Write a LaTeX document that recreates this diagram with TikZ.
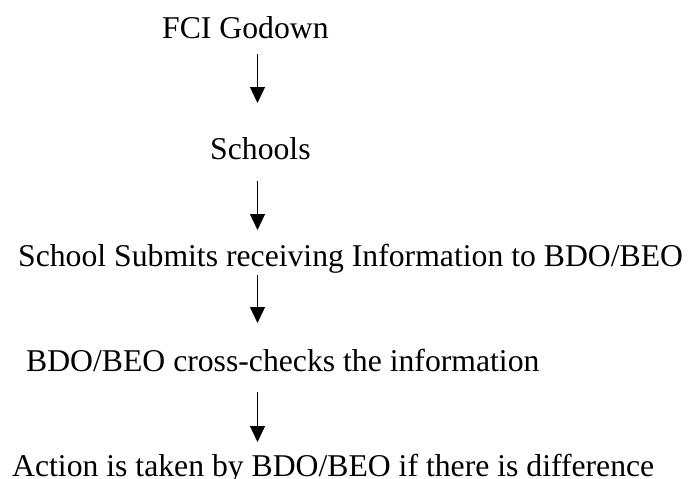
\documentclass[tikz,border=0pt]{standalone}
\usepackage{fontspec}
\setmainfont{Liberation Serif}
\usetikzlibrary{arrows.meta,calc}
\begin{document}
\begin{tikzpicture}[x=1pt,y=1pt,
  lbl/.style={anchor=base west,inner sep=0pt,font=\fontsize{31.7}{38}\selectfont},
  arr/.style={line width=1.3pt,-{Triangle[width=15pt,length=16pt]}}]
\useasboundingbox (0,0) rectangle (689,-479);
\coordinate (ax) at (257.5,0);
\node[lbl] (n1) at (162,-38) {FCI Godown};
\node[lbl] (n2) at (210,-159) {Schools};
\node[lbl] (n3) at (18,-266) {School Submits receiving Information to BDO/BEO};
\node[lbl] (n4) at (26,-371) {BDO/BEO cross-checks the information};
\node[lbl] (n5) at (12,-476) {Action is taken by BDO/BEO if there is difference};
\draw[arr] ($(n1.base -| ax)+(0,-16)$) -- ($(n2.base -| ax)+(0,56)$);
\draw[arr] ($(n2.base -| ax)+(0,-22)$) -- ($(n3.base -| ax)+(0,36)$);
\draw[arr] ($(n3.base -| ax)+(0,-9)$) -- ($(n4.base -| ax)+(0,48)$);
\draw[arr] ($(n4.base -| ax)+(0,-21)$) -- ($(n5.base -| ax)+(0,34)$);
\end{tikzpicture}
\end{document}
